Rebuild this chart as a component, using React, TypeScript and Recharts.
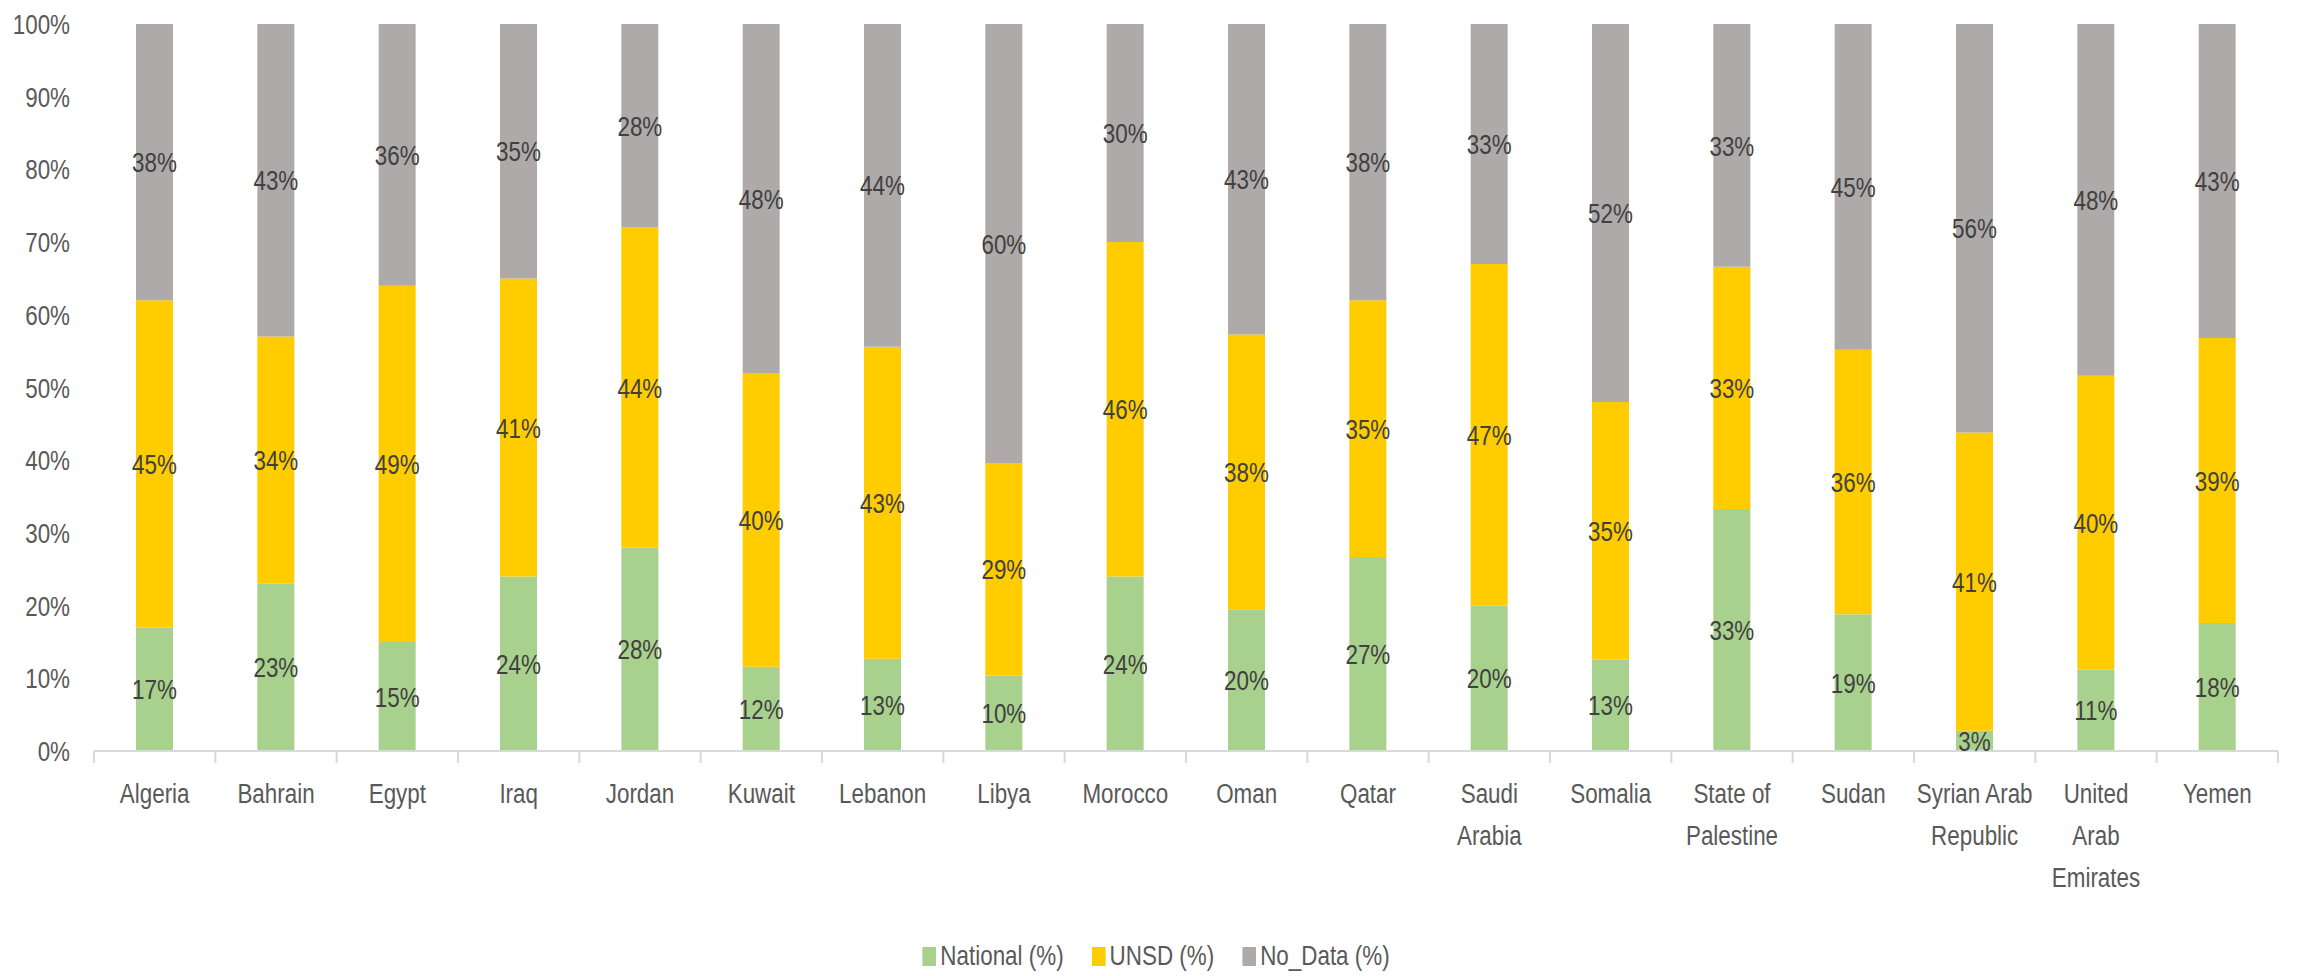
import React from 'react';
import { BarChart, Bar, XAxis, YAxis, Legend, LabelList } from 'recharts';

const countries = [
  'Algeria', 'Bahrain', 'Egypt', 'Iraq', 'Jordan', 'Kuwait', 'Lebanon', 'Libya', 'Morocco',
  'Oman', 'Qatar', 'Saudi Arabia', 'Somalia', 'State of Palestine', 'Sudan',
  'Syrian Arab Republic', 'United Arab Emirates', 'Yemen',
];

// how the category labels wrap under the axis
const countryLines = [
  ['Algeria'], ['Bahrain'], ['Egypt'], ['Iraq'], ['Jordan'], ['Kuwait'], ['Lebanon'], ['Libya'],
  ['Morocco'], ['Oman'], ['Qatar'], ['Saudi', 'Arabia'], ['Somalia'], ['State of', 'Palestine'],
  ['Sudan'], ['Syrian Arab', 'Republic'], ['United', 'Arab', 'Emirates'], ['Yemen'],
];

const national = [17, 23, 15, 24, 28, 11.6, 12.7, 10.4, 24, 19.5, 26.7, 20, 12.6, 33.3, 18.8, 2.8, 11.2, 17.6];
const unsd = [45, 34, 49, 41, 44, 40.4, 42.9, 29.2, 46, 37.8, 35.3, 47, 35.4, 33.3, 36.4, 41.0, 40.4, 39.2];
const noData = [38, 43, 36, 35, 28, 48, 44.4, 60.4, 30, 42.7, 38, 33, 52, 33.4, 44.8, 56.2, 48.4, 43.2];

const seriesOrder = ['National (%)', 'UNSD (%)', 'No_Data (%)'];
const yTicks = [0, 10, 20, 30, 40, 50, 60, 70, 80, 90, 100];

const data = countries.map((country, i) => ({
  country,
  national: national[i],
  unsd: unsd[i],
  noData: noData[i],
}));

// Liberation Sans squeezed horizontally, to get close to the narrow Calibri look
const FONT = '"Liberation Sans", Arial, sans-serif';
const FS = 28;
const SX = 0.8;
const WIDTH = 2298;
const HEIGHT = 976;
const Y_AXIS_W = 94;
const RIGHT = 20;
const band = (WIDTH - Y_AXIS_W - RIGHT) / countries.length;

const pct = (v: number) => `${Math.round(v)}%`;

const CountryTick = (props: any) => {
  const { x, y, payload, index } = props;
  const lines = countryLines[index] || [payload.value];
  const last = index === countries.length - 1;
  return (
    <g>
      <line x1={x - band / 2} x2={x - band / 2} y1={y} y2={y + 12} stroke="#D9D9D9" strokeWidth={2} />
      {last && (
        <line x1={x + band / 2} x2={x + band / 2} y1={y} y2={y + 12} stroke="#D9D9D9" strokeWidth={2} />
      )}
      <text transform={`translate(${x} ${y}) scale(${SX} 1)`} textAnchor="middle" fill="#595959" fontSize={FS} fontFamily={FONT}>
        {lines.map((l, i) => (
          <tspan key={i} x={0} y={52 + i * 42}>{l}</tspan>
        ))}
      </text>
    </g>
  );
};

const PercentTick = (props: any) => {
  const { x, y, payload } = props;
  return (
    <text transform={`translate(${x} ${y}) scale(${SX} 1)`} textAnchor="end" dy="0.36em" fill="#595959" fontSize={FS} fontFamily={FONT}>
      {`${payload.value}%`}
    </text>
  );
};

const SegmentLabel = (props: any) => {
  const { x, y, width, height, value } = props;
  const cx = Number(x) + Number(width) / 2;
  const cy = Number(y) + Number(height) / 2;
  return (
    <text transform={`translate(${cx} ${cy}) scale(${SX} 1)`} textAnchor="middle" dy="0.36em" fill="#404040" fontSize={FS} fontFamily={FONT}>
      {pct(Number(value))}
    </text>
  );
};

const LegendContent = (props: any) => {
  const items = [...(props.payload || [])].sort(
    (a: any, b: any) => seriesOrder.indexOf(a.value) - seriesOrder.indexOf(b.value)
  );
  return (
    <div style={{ height: 40, display: 'flex', justifyContent: 'center', alignItems: 'center', fontFamily: FONT, fontSize: FS, color: '#595959', transform: `scaleX(${SX})` }}>
      {items.map((p: any, i: number) => (
        <span key={i} style={{ display: 'flex', alignItems: 'center', marginLeft: i === 0 ? 0 : 28 / SX }}>
          <span style={{ display: 'inline-block', width: 14 / SX, height: 19, background: p.color, marginRight: 4 / SX }} />
          {p.value}
        </span>
      ))}
    </div>
  );
};

const App = () => {
  return (
    <div style={{ width: WIDTH, height: HEIGHT, background: '#fff' }}>
      <style>{'body{margin:0}'}</style>
      <BarChart width={WIDTH} height={HEIGHT} data={data} margin={{ top: 24, right: RIGHT, bottom: 0, left: 0 }}>
        <XAxis
          dataKey="country"
          interval={0}
          height={185}
          tickLine={false}
          tickSize={0}
          tickMargin={0}
          axisLine={{ stroke: '#D9D9D9', strokeWidth: 2 }}
          tick={<CountryTick />}
        />
        <YAxis
          width={Y_AXIS_W}
          domain={[0, 100]}
          ticks={yTicks}
          axisLine={false}
          tickLine={false}
          tickMargin={18}
          tick={<PercentTick />}
        />
        <Legend verticalAlign="bottom" content={<LegendContent />} wrapperStyle={{ left: 17 }} />
        <Bar dataKey="national" name="National (%)" stackId="a" fill="#A9D18E" barSize={37} isAnimationActive={false}>
          <LabelList dataKey="national" content={<SegmentLabel />} />
        </Bar>
        <Bar dataKey="unsd" name="UNSD (%)" stackId="a" fill="#FFCC00" barSize={37} isAnimationActive={false}>
          <LabelList dataKey="unsd" content={<SegmentLabel />} />
        </Bar>
        <Bar dataKey="noData" name="No_Data (%)" stackId="a" fill="#AEAAAA" barSize={37} isAnimationActive={false}>
          <LabelList dataKey="noData" content={<SegmentLabel />} />
        </Bar>
      </BarChart>
    </div>
  );
};

export default App;
